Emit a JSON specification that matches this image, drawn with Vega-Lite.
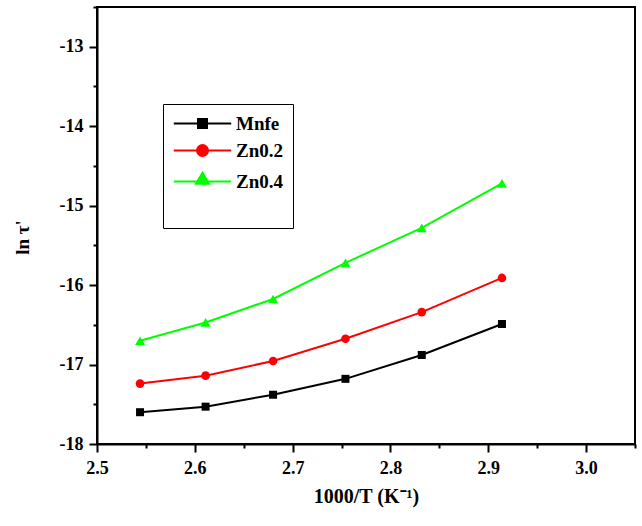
{
  "$schema": "https://vega.github.io/schema/vega-lite/v6.json",
  "width": 538,
  "height": 437,
  "autosize": {"type": "none"},
  "padding": {"left": 97, "top": 7, "right": 7, "bottom": 82},
  "background": "white",
  "config": {
    "view": {"stroke": "black", "strokeWidth": 2},
    "font": "Liberation Serif"
  },
  "data": {
    "values": [
      {"series": "Mnfe", "x": 2.544, "y": -17.60},
      {"series": "Mnfe", "x": 2.611, "y": -17.53},
      {"series": "Mnfe", "x": 2.680, "y": -17.38},
      {"series": "Mnfe", "x": 2.754, "y": -17.18},
      {"series": "Mnfe", "x": 2.832, "y": -16.88},
      {"series": "Mnfe", "x": 2.914, "y": -16.49},
      {"series": "Zn0.2", "x": 2.544, "y": -17.24},
      {"series": "Zn0.2", "x": 2.611, "y": -17.14},
      {"series": "Zn0.2", "x": 2.680, "y": -16.955},
      {"series": "Zn0.2", "x": 2.754, "y": -16.675},
      {"series": "Zn0.2", "x": 2.832, "y": -16.34},
      {"series": "Zn0.2", "x": 2.914, "y": -15.91},
      {"series": "Zn0.4", "x": 2.544, "y": -16.70},
      {"series": "Zn0.4", "x": 2.611, "y": -16.47},
      {"series": "Zn0.4", "x": 2.680, "y": -16.175},
      {"series": "Zn0.4", "x": 2.754, "y": -15.72},
      {"series": "Zn0.4", "x": 2.832, "y": -15.28},
      {"series": "Zn0.4", "x": 2.914, "y": -14.72}
    ]
  },
  "encoding": {
    "x": {
      "field": "x",
      "type": "quantitative",
      "scale": {"domain": [2.5, 3.05], "nice": false, "zero": false},
      "axis": {
        "title": "1000/T (K⁻¹)",
        "titleFontSize": 20,
        "titleFontWeight": "bold",
        "titleColor": "black",
        "titlePadding": 9,
        "values": [2.5, 2.55, 2.6, 2.65, 2.7, 2.75, 2.8, 2.85, 2.9, 2.95, 3.0, 3.05],
        "labelExpr": "abs(datum.value*10 - round(datum.value*10)) < 1e-6 ? format(datum.value, '.1f') : ''",
        "labelFontSize": 18,
        "labelFontWeight": "bold",
        "labelColor": "black",
        "labelPadding": 7,
        "labelFlush": false,
        "labelOverlap": false,
        "grid": false,
        "domainColor": "black",
        "domainWidth": 2,
        "tickColor": "black",
        "tickWidth": 2,
        "tickSize": {"condition": {"test": "abs(datum.value*10 - round(datum.value*10)) < 1e-6", "value": 8}, "value": 4}
      }
    },
    "y": {
      "field": "y",
      "type": "quantitative",
      "scale": {"domain": [-18, -12.5], "nice": false, "zero": false},
      "axis": {
        "title": "ln τ'",
        "titleFontSize": 19,
        "titleFontWeight": "bold",
        "titleColor": "black",
        "titlePadding": 27,
        "titleY": 230,
        "values": [-18, -17.5, -17, -16.5, -16, -15.5, -15, -14.5, -14, -13.5, -13, -12.5],
        "labelExpr": "datum.value % 1 === 0 ? '' + datum.value : ''",
        "labelFontSize": 18,
        "labelFontWeight": "bold",
        "labelColor": "black",
        "labelPadding": 6,
        "labelFlush": false,
        "labelOverlap": false,
        "grid": false,
        "domainColor": "black",
        "domainWidth": 2,
        "tickColor": "black",
        "tickWidth": 2,
        "tickSize": {"condition": {"test": "datum.value % 1 === 0", "value": 8}, "value": 4}
      }
    },
    "color": {
      "field": "series",
      "type": "nominal",
      "scale": {"domain": ["Mnfe", "Zn0.2", "Zn0.4"], "range": ["#000000", "#ff0000", "#00ff00"]},
      "legend": {
        "orient": "none",
        "legendX": 66,
        "legendY": 97,
        "title": " ",
        "titleOrient": "bottom",
        "titleFontSize": 20,
        "titlePadding": 6,
        "fillColor": "white",
        "strokeColor": "black",
        "padding": 10,
        "rowPadding": 7,
        "symbolSize": 100,
        "symbolStrokeWidth": 2,
        "symbolOffset": 20,
        "labelOffset": 24,
        "labelFontSize": 19,
        "labelFontWeight": "bold",
        "labelColor": "black",
        "encode": {
          "symbols": {
            "update": {
              "shape": {"signal": "datum.value === 'Mnfe' ? 'M-5.74,0H5.74M-0.9,-0.9H0.9V0.9H-0.9Z' : datum.value === 'Zn0.2' ? 'M-5.74,0H5.74M1.1,0A1.1,1.1,0,1,1,-1.1,0A1.1,1.1,0,1,1,1.1,0Z' : 'M-5.74,0H5.74M0,-1.74L1.3,0.46L-1.3,0.46Z'"},
              "strokeWidth": {"value": 2},
              "opacity": {"value": 1}
            }
          }
        }
      }
    }
  },
  "layer": [
    {"mark": {"type": "line", "strokeWidth": 2}},
    {
      "mark": {"type": "point", "filled": true, "opacity": 1},
      "encoding": {
        "shape": {
          "condition": [
            {"test": "datum.series === 'Mnfe'", "value": "square"},
            {"test": "datum.series === 'Zn0.2'", "value": "circle"}
          ],
          "value": "triangle-up"
        },
        "size": {
          "condition": [
            {"test": "datum.series === 'Mnfe'", "value": 64},
            {"test": "datum.series === 'Zn0.2'", "value": 75}
          ],
          "value": 100
        }
      }
    }
  ]
}
